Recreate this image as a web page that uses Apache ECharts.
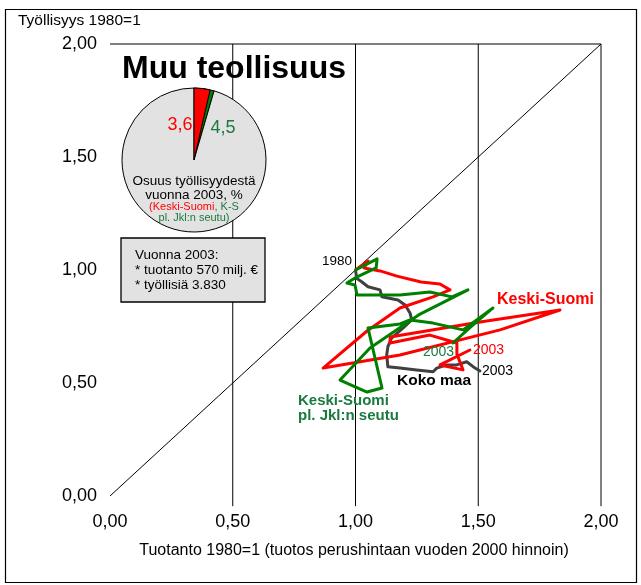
<!DOCTYPE html>
<html>
<head>
<meta charset="utf-8">
<script src="https://cdn.jsdelivr.net/npm/echarts@6/dist/echarts.min.js"></script>
<style>
  html, body { margin: 0; padding: 0; background: #fff; }
  #chart { width: 641px; height: 585px; }
</style>
</head>
<body>
<div id="chart"></div>
<script>
// Production index (x) vs employment index (y), 1980 = 1, years 1980–2003
const years = [1980,1981,1982,1983,1984,1985,1986,1987,1988,1989,1990,1991,
               1992,1993,1994,1995,1996,1997,1998,1999,2000,2001,2002,2003];

const kokoMaaX = [1.00,1.005,1.025,1.051,1.100,1.107,1.173,1.202,1.222,1.229,1.193,1.147,
                  1.132,1.127,1.132,1.181,1.249,1.316,1.331,1.372,1.412,1.453,1.487,1.507];
const kokoMaaY = [1.00,0.963,0.948,0.926,0.912,0.882,0.867,0.845,0.810,0.779,0.743,0.699,
                  0.661,0.624,0.572,0.566,0.558,0.550,0.566,0.580,0.580,0.594,0.566,0.553];

const keskiSuomiX = [1.00,1.051,1.035,1.100,1.169,1.267,1.344,1.385,1.316,1.181,1.047,0.868,
                     1.181,1.589,1.833,1.507,1.141,1.141,1.303,1.413,1.413,1.438,1.344,1.466];
const keskiSuomiY = [1.00,1.040,1.009,0.996,0.973,0.947,0.938,0.912,0.881,0.832,0.730,0.566,
                     0.624,0.735,0.823,0.770,0.704,0.677,0.712,0.677,0.628,0.558,0.580,0.646];

const ksPlJklX = [1.00,1.088,1.084,0.998,0.965,0.998,1.006,1.181,1.303,1.393,1.458,1.263,
                  1.059,0.937,1.047,1.108,1.051,1.181,1.222,1.316,1.438,1.560,1.473,1.397];
const ksPlJklY = [1.00,1.049,1.009,0.965,0.942,0.934,0.889,0.889,0.903,0.881,0.912,0.805,
                  0.655,0.513,0.460,0.478,0.743,0.761,0.779,0.765,0.735,0.832,0.752,0.677];

// Axis ticks and reference lines
const axisTicks = [0, 0.5, 1, 1.5, 2];
const gridX = [0.5, 1, 1.5, 2];
const gridBottom = -0.045;   // verticals run a little below the zero level

// Share of employment in 2003, %
const shareKeskiSuomi = 3.6;
const shareKsPlJkl = 4.5;

const RED = '#ff0000';
const GREEN = '#008000';
const GREEN_TEXT = '#1b7a3e';
const GRAY = '#404040';
const FONT = '"Liberation Sans", Arial, sans-serif';

const fmt = v => v.toFixed(2).replace('.', ',');
const fmt1 = v => v.toFixed(1).replace('.', ',');
const zip = (xs, ys) => xs.map((x, i) => [x, ys[i]]);
const AX_MIN = axisTicks[0];
const AX_MAX = axisTicks[axisTicks.length - 1];

const chart = echarts.init(document.getElementById('chart'), null, { renderer: 'canvas' });

const frameLine = data => ({
  type: 'line', data, symbol: 'none', silent: true, clip: false, z: 1,
  lineStyle: { color: '#000', width: 1 }
});

const lineSeries = (name, xs, ys, color) => ({
  name, type: 'line', data: zip(xs, ys), symbol: 'none', silent: true,
  clip: false, z: 5,
  lineStyle: { color, width: 3, join: 'round', cap: 'round' }
});

chart.setOption({
  animation: false,
  backgroundColor: '#ffffff',
  textStyle: { fontFamily: FONT },
  grid: { left: 110, right: 40, top: 44, bottom: 89 },
  xAxis: {
    type: 'value', min: AX_MIN, max: AX_MAX, interval: 0.5,
    axisLine: { show: false }, axisTick: { show: false }, splitLine: { show: false },
    axisLabel: { formatter: fmt, fontSize: 18, color: '#000', margin: 17, fontFamily: FONT }
  },
  yAxis: {
    type: 'value', min: AX_MIN, max: AX_MAX, interval: 0.5,
    axisLine: { show: false }, axisTick: { show: false }, splitLine: { show: false },
    axisLabel: { formatter: fmt, fontSize: 18, color: '#000', margin: 13, fontFamily: FONT }
  },
  series: [
    // vertical reference lines, top edge, diagonal y = x
    ...gridX.map(v => frameLine([[v, gridBottom], [v, AX_MAX]])),
    frameLine([[AX_MIN, AX_MAX], [AX_MAX, AX_MAX]]),
    frameLine([[AX_MIN, AX_MIN], [AX_MAX, AX_MAX]]),
    lineSeries('Koko maa', kokoMaaX, kokoMaaY, GRAY),
    lineSeries('Keski-Suomi', keskiSuomiX, keskiSuomiY, RED),
    lineSeries('Keski-Suomi pl. Jkl:n seutu', ksPlJklX, ksPlJklY, GREEN),
    {
      // outer pie: K-S pl. Jkl:n seutu share on a grey disc
      type: 'pie', center: [194, 160], radius: 72, startAngle: 90, clockwise: true,
      silent: true, z: 10, label: { show: false }, labelLine: { show: false },
      data: [
        { value: shareKsPlJkl, itemStyle: { color: GREEN, borderColor: '#000', borderWidth: 1 } },
        { value: 100 - shareKsPlJkl, itemStyle: { color: '#e2e2e2', borderColor: '#000', borderWidth: 1 } }
      ]
    },
    {
      // Keski-Suomi share drawn over it
      type: 'pie', center: [194, 160], radius: 72, startAngle: 90, clockwise: true,
      silent: true, z: 11, label: { show: false }, labelLine: { show: false },
      data: [
        { value: shareKeskiSuomi, itemStyle: { color: RED, borderColor: '#000', borderWidth: 1 } },
        { value: 100 - shareKeskiSuomi, itemStyle: { color: 'rgba(0,0,0,0)', borderWidth: 0 } }
      ]
    }
  ],
  graphic: [
    // outer frame
    { type: 'rect', shape: { x: 5.5, y: 9.5, width: 631, height: 573 }, silent: true,
      style: { fill: 'none', stroke: '#000', lineWidth: 1.2 }, z: 0 },
    // axis titles
    { type: 'text', left: 18, top: 13, silent: true,
      style: { text: 'Työllisyys 1980=1', font: '15.5px ' + FONT, fill: '#000' } },
    { type: 'text', x: 354, y: 551, silent: true,
      style: { text: 'Tuotanto 1980=1 (tuotos perushintaan vuoden 2000 hinnoin)', font: '16px ' + FONT,
               fill: '#000', align: 'center', verticalAlign: 'middle' } },
    // title
    { type: 'text', x: 234, y: 69, silent: true, z: 20,
      style: { text: 'Muu teollisuus', font: 'bold 32px ' + FONT, fill: '#000',
               align: 'center', verticalAlign: 'middle' } },
    // pie labels
    { type: 'text', x: 180, y: 125, silent: true, z: 20,
      style: { text: fmt1(shareKeskiSuomi), font: '18px ' + FONT, fill: RED, align: 'center', verticalAlign: 'middle' } },
    { type: 'text', x: 223, y: 128, silent: true, z: 20,
      style: { text: fmt1(shareKsPlJkl), font: '18px ' + FONT, fill: GREEN_TEXT, align: 'center', verticalAlign: 'middle' } },
    { type: 'text', x: 194, y: 181, silent: true, z: 20,
      style: { text: 'Osuus työllisyydestä', font: '13.5px ' + FONT, fill: '#000', align: 'center', verticalAlign: 'middle' } },
    { type: 'text', x: 194, y: 195, silent: true, z: 20,
      style: { text: 'vuonna 2003, %', font: '13.5px ' + FONT, fill: '#000', align: 'center', verticalAlign: 'middle' } },
    { type: 'text', x: 194, y: 207, silent: true, z: 20,
      style: { text: '{r|(Keski-Suomi}{g|, K-S}', align: 'center', verticalAlign: 'middle',
               rich: { r: { fill: RED, font: '11px ' + FONT }, g: { fill: GREEN_TEXT, font: '11px ' + FONT } } } },
    { type: 'text', x: 194, y: 218, silent: true, z: 20,
      style: { text: 'pl. Jkl:n seutu)', font: '11px ' + FONT, fill: GREEN_TEXT, align: 'center', verticalAlign: 'middle' } },
    // info box
    { type: 'rect', shape: { x: 121, y: 238, width: 144, height: 64 }, silent: true, z: 20,
      style: { fill: '#e2e2e2', stroke: '#000', lineWidth: 1.3 } },
    { type: 'text', x: 135, y: 255, silent: true, z: 21,
      style: { text: 'Vuonna 2003:', font: '13.5px ' + FONT, fill: '#000', verticalAlign: 'middle' } },
    { type: 'text', x: 135, y: 270, silent: true, z: 21,
      style: { text: '* tuotanto 570 milj. €', font: '13.5px ' + FONT, fill: '#000', verticalAlign: 'middle' } },
    { type: 'text', x: 135, y: 285, silent: true, z: 21,
      style: { text: '* työllisiä 3.830', font: '13.5px ' + FONT, fill: '#000', verticalAlign: 'middle' } },
    // series annotations
    { type: 'text', x: 352, y: 261, silent: true, z: 21,
      style: { text: String(years[0]), font: '13.5px ' + FONT, fill: '#000', align: 'right', verticalAlign: 'middle' } },
    { type: 'text', x: 497, y: 300, silent: true, z: 21,
      style: { text: 'Keski-Suomi', font: 'bold 16px ' + FONT, fill: RED, verticalAlign: 'middle' } },
    { type: 'text', x: 473, y: 350, silent: true, z: 21,
      style: { text: String(years[years.length - 1]), font: '14px ' + FONT, fill: RED, verticalAlign: 'middle' } },
    { type: 'text', x: 423, y: 352, silent: true, z: 21,
      style: { text: String(years[years.length - 1]), font: '14px ' + FONT, fill: GREEN_TEXT, verticalAlign: 'middle' } },
    { type: 'text', x: 482, y: 371, silent: true, z: 21,
      style: { text: String(years[years.length - 1]), font: '14px ' + FONT, fill: '#000', verticalAlign: 'middle' } },
    { type: 'text', x: 397, y: 381, silent: true, z: 21,
      style: { text: 'Koko maa', font: 'bold 15.5px ' + FONT, fill: '#000', verticalAlign: 'middle' } },
    { type: 'text', x: 298, y: 401, silent: true, z: 21,
      style: { text: 'Keski-Suomi', font: 'bold 15px ' + FONT, fill: GREEN_TEXT, verticalAlign: 'middle' } },
    { type: 'text', x: 298, y: 416, silent: true, z: 21,
      style: { text: 'pl. Jkl:n seutu', font: 'bold 15px ' + FONT, fill: GREEN_TEXT, verticalAlign: 'middle' } }
  ]
});
</script>
</body>
</html>
